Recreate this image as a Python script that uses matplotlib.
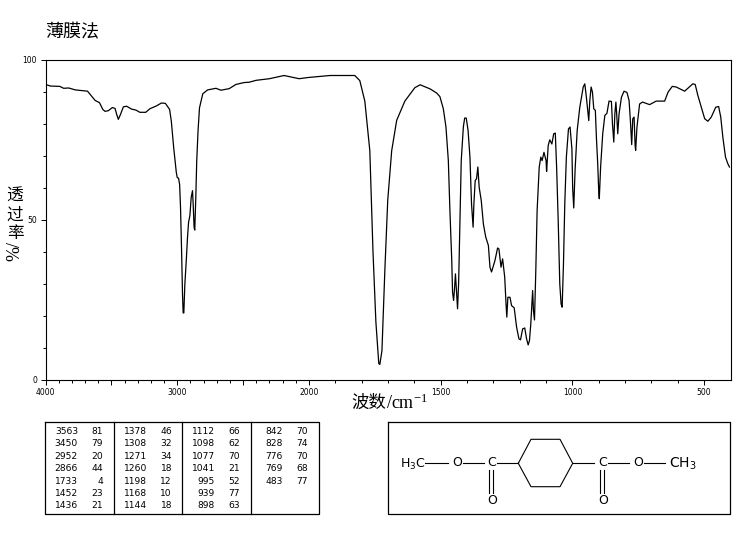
import matplotlib
matplotlib.use("Agg")
import matplotlib.pyplot as plt
import numpy as np
from matplotlib.ticker import FixedLocator

plt.rcParams["font.family"] = ["DejaVu Sans", "Noto Sans CJK SC"]
plt.rcParams["mathtext.default"] = "regular"

wave = [4000, 3962, 3892, 3862, 3824, 3774, 3681, 3661, 3623, 3590, 3565, 3548, 3523, 3492, 3472, 3460,
        3447, 3430, 3409, 3384, 3347, 3314, 3284, 3239, 3208, 3158, 3120, 3090, 3058, 3045, 3027, 3007,
        3000, 2990, 2982, 2975, 2967, 2960, 2955, 2950, 2942, 2932, 2922, 2914, 2904, 2894, 2884, 2879,
        2872, 2867, 2859, 2852, 2842, 2831, 2806, 2769, 2706, 2668, 2605, 2555, 2492, 2454, 2400, 2300,
        2189, 2075, 2000, 1920, 1826, 1807, 1788, 1769, 1757, 1746, 1735, 1731, 1723, 1712, 1701, 1686,
        1667, 1636, 1598, 1578, 1540, 1515, 1503, 1490, 1480, 1471, 1465, 1458, 1455, 1451, 1448, 1444,
        1441, 1436, 1432, 1427, 1422, 1414, 1409, 1403, 1396, 1389, 1383, 1377, 1374, 1369, 1364, 1359,
        1354, 1346, 1338, 1329, 1319, 1313, 1307, 1294, 1284, 1279, 1271, 1265, 1257, 1252, 1249, 1245,
        1237, 1231, 1221, 1212, 1203, 1197, 1189, 1181, 1174, 1168, 1163, 1158, 1151, 1148, 1144, 1139,
        1134, 1126, 1120, 1115, 1108, 1100, 1098, 1092, 1086, 1078, 1071, 1065, 1060, 1054, 1048, 1043,
        1039, 1034, 1029, 1023, 1015, 1009, 1002, 999, 995, 990, 982, 972, 959, 953, 947, 942,
        938, 934, 929, 924, 919, 913, 909, 904, 900, 898, 893, 885, 877, 869, 861, 852,
        848, 843, 839, 835, 832, 828, 823, 814, 804, 793, 785, 780, 775, 771, 766, 762,
        760, 755, 745, 734, 707, 682, 650, 637, 621, 606, 574, 543, 534, 524, 511, 498,
        486, 473, 456, 445, 437, 429, 419, 410, 404]
trans = [92.2, 91.7, 91.6, 91.0, 91.1, 90.5, 90.1, 89.1, 87.2, 86.5, 84.4, 83.8, 84.0, 85.0, 84.7, 82.9,
         81.3, 82.9, 85.2, 85.4, 84.5, 84.2, 83.5, 83.5, 84.6, 85.5, 86.4, 86.3, 84.4, 80.8, 72.5, 64.7,
         63.1, 62.9, 61.0, 53.8, 40.3, 26.8, 20.8, 20.8, 29.9, 36.7, 44.4, 49.1, 51.2, 56.9, 59.0, 54.8,
         47.6, 46.7, 56.9, 68.3, 77.7, 84.9, 89.3, 90.5, 91.0, 90.4, 90.9, 92.2, 92.8, 92.9, 93.5, 94.0,
         95.0, 94.0, 94.4, 95.0, 95.0, 93.4, 87.0, 71.5, 40.0, 18.0, 5.0, 4.7, 9.0, 34.0, 56.0, 71.5,
         81.0, 87.0, 91.2, 92.1, 90.8, 89.5, 88.4, 84.6, 78.9, 68.4, 52.8, 37.2, 27.3, 24.7, 27.8, 33.0,
         28.9, 22.1, 29.9, 49.7, 68.4, 78.9, 81.7, 81.7, 77.8, 69.5, 54.9, 47.6, 54.9, 62.2, 62.7, 66.4,
         60.1, 55.9, 48.6, 44.5, 41.9, 35.1, 33.6, 37.2, 41.1, 40.8, 35.1, 37.7, 32.0, 23.6, 19.5, 25.7,
         25.7, 23.1, 22.4, 16.4, 12.7, 12.4, 15.8, 16.1, 12.7, 10.8, 12.2, 17.4, 27.8, 21.6, 18.6, 34.0,
         52.8, 66.4, 69.5, 68.4, 71.0, 68.4, 65.0, 73.1, 74.9, 73.6, 76.8, 77.0, 66.4, 49.7, 29.9, 23.6,
         22.6, 36.1, 54.9, 69.5, 78.3, 78.9, 72.1, 59.6, 53.6, 65.3, 77.8, 85.1, 91.4, 92.4, 88.2, 84.0,
         80.9, 87.2, 91.4, 89.8, 84.6, 84.1, 75.7, 67.4, 58.5, 56.5, 66.4, 76.8, 82.5, 83.2, 87.0, 86.9,
         79.9, 74.2, 83.0, 86.7, 83.0, 76.8, 83.0, 88.2, 90.1, 89.7, 87.2, 80.9, 73.4, 81.5, 82.0, 73.1,
         71.6, 78.9, 86.1, 86.7, 85.9, 87.0, 87.0, 89.8, 91.6, 91.4, 90.1, 92.4, 92.2, 88.8, 85.1, 81.5,
         80.7, 82.0, 85.1, 85.3, 82.0, 75.7, 69.5, 67.4, 66.4]

x_major = [4000, 3000, 2000, 1500, 1000, 500]
x_mid = [3500, 2500]
x_minor = [w for w in range(3900, 400, -100) if w not in x_major + x_mid]
y_major = [0, 50, 100]
y_minor = [10, 20, 30, 40, 60, 70, 80, 90]

peak_columns = [
    [(3563, 81), (3450, 79), (2952, 20), (2866, 44), (1733, 4), (1452, 23), (1436, 21)],
    [(1378, 46), (1308, 32), (1271, 34), (1260, 18), (1198, 12), (1168, 10), (1144, 18)],
    [(1112, 66), (1098, 62), (1077, 70), (1041, 21), (995, 52), (939, 77), (898, 63)],
    [(842, 70), (828, 74), (776, 70), (769, 68), (483, 77)],
]


def forward(w):
    # axis is compressed by half above 2000 cm-1
    w = np.asarray(w, dtype=float)
    return np.where(w <= 2000, w, 2000 + (w - 2000) / 2)


def inverse(u):
    u = np.asarray(u, dtype=float)
    return np.where(u <= 2000, u, 2000 + (u - 2000) * 2)


W, H = 748, 539
fig = plt.figure(figsize=(W / 100, H / 100), dpi=100, facecolor="white")

ax = fig.add_axes([45.5 / W, 1 - 379.5 / H, 685 / W, 320 / H])
ax.set_xscale("function", functions=(forward, inverse))
ax.set_xlim(4000, 400)
ax.set_ylim(0, 100)
ax.plot(wave, trans, color="black", lw=0.9)

ax.xaxis.set_major_locator(FixedLocator(x_major + x_mid))
ax.xaxis.set_minor_locator(FixedLocator(x_minor))
ax.set_xticklabels([str(w) for w in x_major] + ["", ""])
ax.yaxis.set_major_locator(FixedLocator(y_major))
ax.yaxis.set_minor_locator(FixedLocator(y_minor))
ax.set_yticklabels([str(v) for v in y_major])
ax.tick_params(which="major", length=3.5, width=0.7, labelsize=5.5, pad=2.5)
ax.tick_params(which="minor", length=2, width=0.7)
for spine in ax.spines.values():
    spine.set_linewidth(0.8)

# overlay in image pixels for the captions, table and structure
ov = fig.add_axes([0, 0, 1, 1], facecolor="none")
ov.set_xlim(0, W)
ov.set_ylim(H, 0)
ov.axis("off")

ov.text(45, 32, "薄膜法", fontsize=13, family=["Noto Sans CJK SC"], va="center", ha="left")
ov.text(351, 403, "波数", fontsize=12.5, family=["Noto Sans CJK SC"], weight="medium", va="center", ha="left")
ov.text(386, 403, "/cm$^{-1}$", fontsize=13, family=["Liberation Serif"], va="center", ha="left")

for ch, y in zip("透过率", [196.5, 215, 233.5]):
    ov.text(15, y, ch, fontsize=12, family=["Noto Sans CJK SC"], weight="medium", ha="center", va="center")
ov.text(15, 251, "%/", fontsize=13, family=["Liberation Serif"], rotation=90, ha="center", va="center")


def box(x0, y0, x1, y1):
    ov.plot([x0, x1, x1, x0, x0], [y0, y0, y1, y1, y0], color="black", lw=0.9)


box(45.5, 422, 319.5, 514)
for x in [114, 182.5, 251]:
    ov.plot([x, x], [422, 514], color="black", lw=0.9)

row_y = [431.7, 444, 456.3, 468.7, 481, 493.3, 505.7]
col_x = [(78, 103), (147, 172), (215, 240), (283, 308)]
for (xa, xb), column in zip(col_x, peak_columns):
    for y, (wn, t) in zip(row_y, column):
        ov.text(xa, y, str(wn), fontsize=6.6, ha="right", va="center")
        ov.text(xb, y, str(t), fontsize=6.6, ha="right", va="center")

box(388.5, 422, 730.5, 514)
ring_x = [518.3, 531, 560, 572.7, 560, 531, 518.3]
ring_y = [463.3, 439.3, 439.3, 463.3, 486.7, 486.7, 463.3]
ov.plot(ring_x, ring_y, color="black", lw=0.8)
for x0, x1 in [(425, 448), (463, 484), (497, 518), (573, 594), (608, 629), (644, 665)]:
    ov.plot([x0, x1], [463.3, 463.3], color="black", lw=0.8)
for x in [488.7, 492.7, 600, 604]:
    ov.plot([x, x], [470, 493], color="black", lw=0.8)
for x, y, s in [(457, 463, "O"), (491.7, 463, "C"), (602.7, 463, "C"), (638, 463, "O"),
                (491.7, 500.7, "O"), (603.3, 500.7, "O")]:
    ov.text(x, y, s, fontsize=9, ha="center", va="center")
ov.text(400, 464, "H$_3$C", fontsize=9, ha="left", va="center")
ov.text(669, 464, "CH$_3$", fontsize=10, ha="left", va="center")

fig.savefig("out.png", dpi=100)
